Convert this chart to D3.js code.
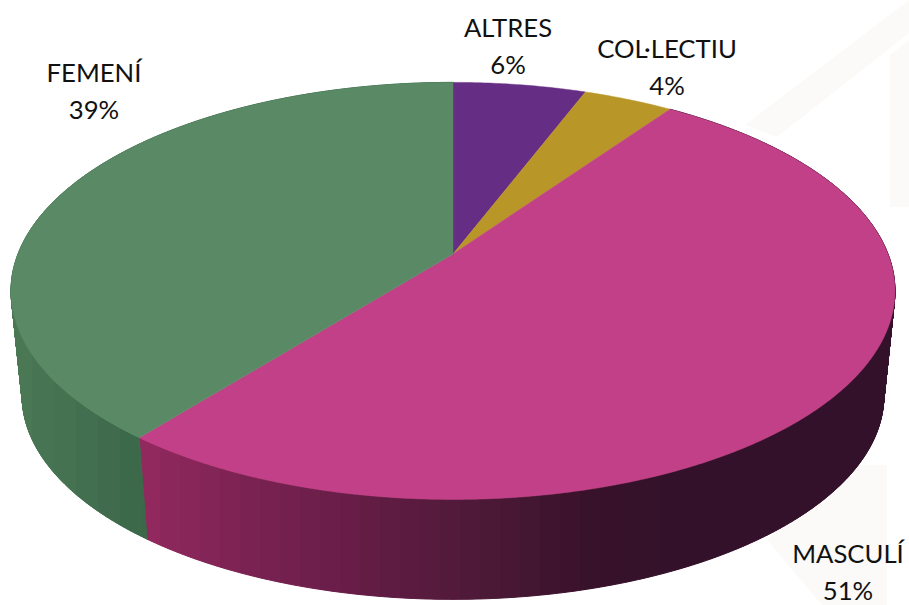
<!DOCTYPE html>
<html>
<head>
<meta charset="utf-8">
<script src="https://cdn.jsdelivr.net/npm/d3@7"></script>
<style>
  html, body { margin: 0; background: #fff; }
  svg { display: block; }
  text { font-family: Lato, "Open Sans", sans-serif; fill: #111; }
</style>
</head>
<body>
<div id="chart"></div>
<script>
const categories = ["ALTRES", "COL·LECTIU", "MASCULÍ", "FEMENÍ"];
const shares = [6, 4, 51, 39];
const topColors = ["#652d83", "#b89628", "#c24087", "#5a8a65"];

// side shading, left to right across the front of the pie
const greenSide = ["#4b7956", "#3b6749"];
const pinkSide = ["#93295f", "#7a2252", "#641c45", "#4e1a38", "#38112a", "#33112a"];

const w = 909, h = 605;
const tilt = 0.177; // perspective strength
const warp = 0.021; // foreshortening of the angles

const svg = d3.select("#chart").append("svg").attr("width", w).attr("height", h);

// faint watermark behind the chart
svg.append("path")
    .attr("d", "M745 125L909 0V33L777 137Z M890 55L909 40V207H890Z M847 465H887V605H822L767 540Z")
    .attr("fill", "#fbfaf8");

const x = d3.scaleLinear().domain([-1, 1]).range([18, 888]);
const y = d3.scaleLinear().domain([-1, 1]).range([52, 456]);
const xLow = d3.scaleLinear().domain([-1, 1]).range([29, 877]);
const yLow = d3.scaleLinear().domain([-1, 1]).range([163, 557]);

const slices = d3.pie().value(d => d).sort(null)(shares);

// angle on the pie (0 = back, clockwise) to a point on the tilted disc
function project(t, sx, sy) {
    const a = t - warp * Math.sin(2 * t);
    const u = Math.sin(a), v = -Math.cos(a);
    const p = 1 - tilt * v;
    return [sx(u / p), sy(v / p)];
}

const line = d3.line();
const stepAngle = Math.PI / 360;

function rim(a, b, sx, sy) {
    return d3.range(a, b, stepAngle).concat(b).map(t => project(t, sx, sy));
}

// banded gradients run along x, so the bands stay upright like the original
const defs = svg.append("defs");
function bandedGradient(id, colors, x0, x1, bandWidth) {
    const tone = d3.scaleLinear()
        .domain(d3.quantize(d3.interpolate(x0, x1), colors.length))
        .range(colors)
        .clamp(true);
    const edges = d3.range(x0, x1, bandWidth).concat(x1);
    const stops = d3.pairs(edges).flatMap(([a, b]) => [[a, tone((a + b) / 2)], [b, tone((a + b) / 2)]]);
    defs.append("linearGradient")
        .attr("id", id)
        .attr("gradientUnits", "userSpaceOnUse")
        .attr("x1", x0).attr("x2", x1)
        .attr("y1", 0).attr("y2", 0)
        .selectAll("stop")
        .data(stops)
        .join("stop")
        .attr("offset", d => (d[0] - x0) / (x1 - x0))
        .attr("stop-color", d => d[1]);
}
bandedGradient("green-side", greenSide, 10, 150, 22);
bandedGradient("pink-side", pinkSide, 140, 700, 20);

// side walls: thin stroked strips in one path, the strokes fill the flanks
// where the two rims cross over
const sideFill = ["url(#pink-side)", "url(#green-side)"];
function wall(s) {
    const edges = d3.range(s.startAngle, s.endAngle, stepAngle / 2).concat(s.endAngle);
    return d3.pairs(edges)
        .map(([a, b]) => line([project(a, x, y), project(b, x, y), project(b, xLow, yLow), project(a, xLow, yLow)]) + "Z")
        .join("");
}
svg.append("g").selectAll("path")
    .data(slices.slice(2))
    .join("path")
    .attr("d", wall)
    .attr("fill", (s, i) => sideFill[i])
    .attr("stroke", (s, i) => sideFill[i])
    .attr("stroke-width", 1);

// top face
svg.append("g").selectAll("path")
    .data(slices)
    .join("path")
    .attr("d", s => line([[x(0), y(0)]].concat(rim(s.startAngle, s.endAngle, x, y))) + "Z")
    .attr("fill", (s, i) => topColors[i])
    .attr("stroke", (s, i) => topColors[i])
    .attr("stroke-width", 0.5);

// labels
const labelX = [508, 667, 848, 94];
const labelY = [37, 58, 563, 82];
const labels = svg.append("g").attr("font-size", 25.7).attr("text-anchor", "middle");
categories.forEach((c, i) => {
    labels.append("text").attr("x", labelX[i]).attr("y", labelY[i]).text(c);
    labels.append("text").attr("x", labelX[i]).attr("y", labelY[i] + 37).text(shares[i] + "%");
});
</script>
</body>
</html>
